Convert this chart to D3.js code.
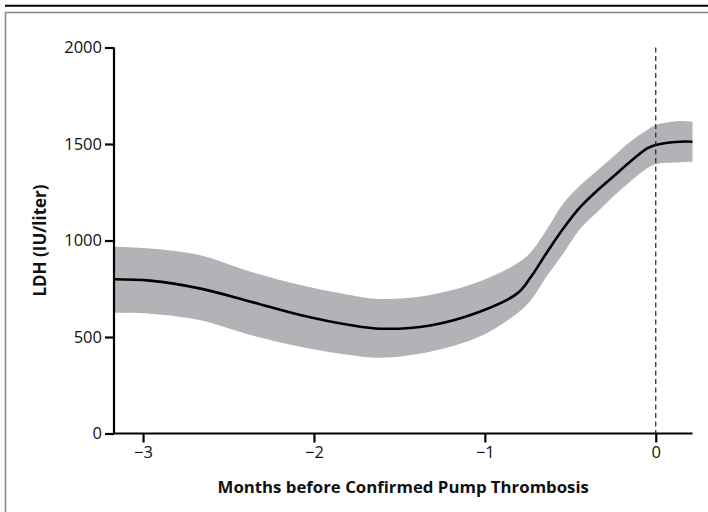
<!DOCTYPE html>
<html>
<head>
<meta charset="utf-8">
<script src="https://cdn.jsdelivr.net/npm/d3@7"></script>
<style>
  html, body { margin: 0; padding: 0; background: #fff; }
  svg { display: block; }
  text { font-family: "Open Sans", "Noto Sans", sans-serif; fill: #111; }
</style>
</head>
<body>
<svg id="chart" width="708" height="512"></svg>
<script>
// Data (months before confirmed pump thrombosis, LDH IU/liter)
const months = [-3.17, -2.96, -2.67, -2.37, -2.08, -1.79, -1.61, -1.32, -1.03, -0.81, -0.73, -0.64, -0.54, -0.44, -0.35, -0.25, -0.15, -0.05, 0, 0.14, 0.215];
const ldh    = [799, 792, 752, 683, 614, 562, 543, 560, 631, 726, 812, 934, 1063, 1175, 1253, 1330, 1408, 1477, 1495, 1512, 1512];
const upper  = [968, 959, 925, 838, 769, 718, 697, 718, 787, 882, 940, 1054, 1193, 1288, 1356, 1434, 1512, 1572, 1598, 1619, 1615];
const lower  = [626, 621, 588, 510, 450, 407, 393, 424, 502, 623, 692, 812, 934, 1063, 1141, 1227, 1305, 1374, 1395, 1405, 1408];
const xTicks = [-3, -2, -1, 0];
const yTicks = [0, 500, 1000, 1500, 2000];
const xTitle = "Months before Confirmed Pump Thrombosis";
const yTitle = "LDH (IU/liter)";

const svg = d3.select("#chart");

// frame
svg.append("line").attr("x1", 5).attr("x2", 708).attr("y1", 5.8).attr("y2", 5.8)
  .attr("stroke", "#000").attr("stroke-width", 2);
svg.append("rect").attr("x", 5.5).attr("y", 12.5).attr("width", 720).attr("height", 520)
  .attr("fill", "none").attr("stroke", "#8a8a8a").attr("stroke-width", 1.6);

const x = d3.scaleLinear().domain([-3.17, 0.215]).range([114, 692.5]);
const y = d3.scaleLinear().domain([0, 2000]).range([433.5, 47.5]);

const rows = months.map((m, i) => ({ m, v: ldh[i], hi: upper[i], lo: lower[i] }));
const curve = d3.curveCatmullRom.alpha(0.5);

// CI band
svg.append("path").datum(rows)
  .attr("fill", "#b1b3b7")
  .attr("d", d3.area().curve(curve)
    .x(d => x(d.m)).y0(d => y(d.lo)).y1(d => y(d.hi)));

// mean line
svg.append("path").datum(rows)
  .attr("fill", "none").attr("stroke", "#000").attr("stroke-width", 2.6)
  .attr("d", d3.line().curve(curve).x(d => x(d.m)).y(d => y(d.v)));

// dashed reference line at 0
svg.append("line")
  .attr("x1", x(0)).attr("x2", x(0)).attr("y1", y(2000)).attr("y2", y(0))
  .attr("stroke", "#222").attr("stroke-width", 1.2).attr("stroke-dasharray", "5,3.5");

// axes
const xAxis = svg.append("g").attr("transform", `translate(0,${y(0)})`)
  .call(d3.axisBottom(x).tickValues(xTicks).tickSize(9).tickPadding(4).tickFormat(d3.format("d")));
const yAxis = svg.append("g").attr("transform", `translate(${x.range()[0]},0)`)
  .call(d3.axisLeft(y).tickValues(yTicks).tickSize(9).tickPadding(3).tickFormat(d3.format("d")));

[xAxis, yAxis].forEach(g => {
  g.select(".domain").attr("stroke", "#000").attr("stroke-width", 2.2);
  g.selectAll(".tick line").attr("stroke", "#000").attr("stroke-width", 2.2);
  g.selectAll(".tick text").attr("font-size", 16.5).attr("fill", "#111")
    .style("font-family", '"Open Sans", "Noto Sans", sans-serif');
});
xAxis.select(".domain").attr("d", `M${x.range()[0]},0H${x.range()[1]}`);
yAxis.select(".domain").attr("d", `M0,${y(0)}V${y(2000)}`);

// titles
svg.append("text")
  .attr("x", (x.range()[0] + x.range()[1]) / 2).attr("y", 493)
  .attr("text-anchor", "middle").attr("font-size", 16.8).attr("font-weight", "bold")
  .text(xTitle);
svg.append("text")
  .attr("transform", `translate(46,${(y(0) + y(2000)) / 2}) rotate(-90)`)
  .attr("text-anchor", "middle").attr("font-size", 17).attr("font-weight", "bold")
  .text(yTitle);
</script>
</body>
</html>
